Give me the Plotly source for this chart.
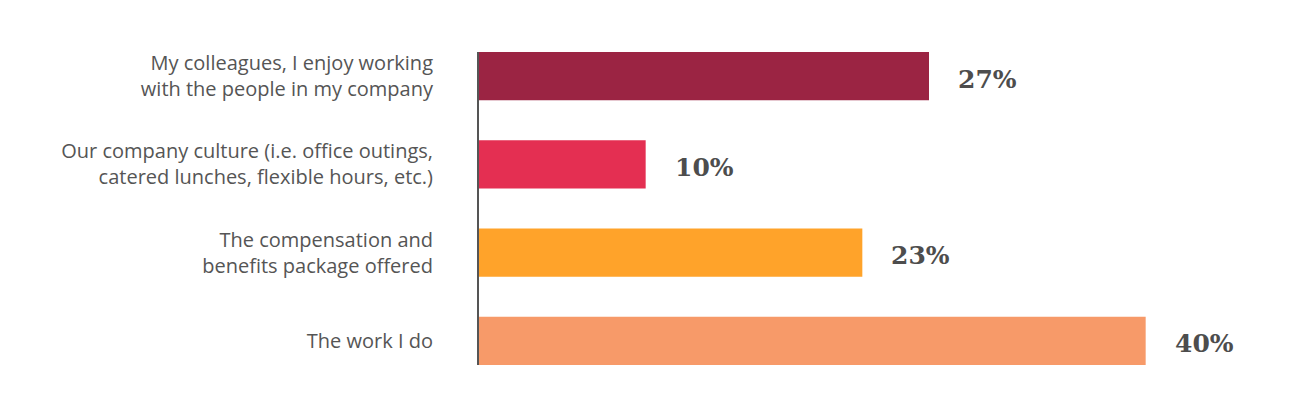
import plotly.graph_objects as go

# survey answers, top to bottom
categories = [
    "My colleagues, I enjoy working<br>with the people in my company",
    "Our company culture (i.e. office outings,<br>catered lunches, flexible hours, etc.)",
    "The compensation and<br>benefits package offered",
    "The work I do",
]
values = [27, 10, 23, 40]
value_labels = ["27%", "10%", "23%", "40%"]
bar_colors = ["#9b2443", "#e42f52", "#ffa32a", "#f79a69"]

fig = go.Figure()
fig.add_trace(go.Bar(
    x=values,
    y=categories,
    orientation="h",
    marker=dict(color=bar_colors, line=dict(width=0)),
    hoverinfo="skip",
))

# percentage labels to the right of each bar
for cat, val, lab in zip(categories, values, value_labels):
    fig.add_annotation(
        x=val, y=cat, text=lab,
        xanchor="left", yanchor="middle",
        xshift=27, yshift=-3,
        showarrow=False,
        font=dict(family="DejaVu Serif", size=25, color="#4d4d4d", weight="bold"),
    )

fig.update_layout(
    width=1292,
    height=417,
    margin=dict(l=471, r=71, t=44, b=60),
    paper_bgcolor="white",
    plot_bgcolor="white",
    bargap=0.455,
    showlegend=False,
    font=dict(family="Open Sans", size=20, color="#555555"),
)
fig.update_xaxes(range=[0, 45], visible=False, showgrid=False, zeroline=False)
fig.update_yaxes(
    range=[3.273, -0.273],
    showgrid=False,
    zeroline=False,
    showline=True,
    linecolor="#555555",
    linewidth=2,
    ticks="",
    ticklabelstandoff=40,
    tickfont=dict(family="Open Sans", size=20, color="#555555"),
)

fig.write_html("out.html")
